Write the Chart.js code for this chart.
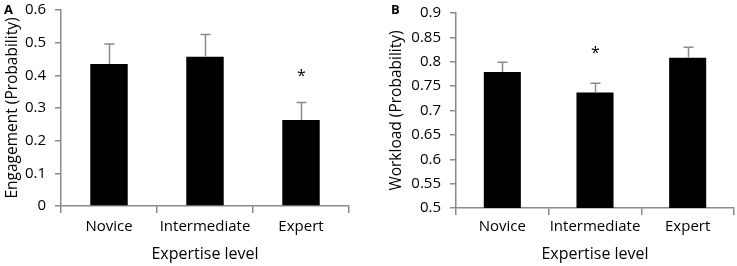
<!DOCTYPE html>
<html>
<head>
<meta charset="utf-8">
<script src="https://cdn.jsdelivr.net/npm/chart.js@4"></script>
<style>
  html, body { margin: 0; padding: 0; background: #fff; }
  body { width: 737px; height: 266px; position: relative; overflow: hidden; font-family: "Open Sans", sans-serif; }
  .panel { position: absolute; top: 0; height: 266px; }
  #pA { left: 0; width: 370px; }
  #pB { left: 370px; width: 367px; }
  .lbl { position: absolute; font-weight: bold; font-size: 13px; color: #000; line-height: 1; }
</style>
</head>
<body>
<div class="panel" id="pA"><canvas id="cA"></canvas></div>
<div class="panel" id="pB"><canvas id="cB"></canvas></div>
<span class="lbl" style="left:4px; top:3px;">A</span>
<span class="lbl" style="left:391px; top:3px;">B</span>
<script>
const categories = ['Novice', 'Intermediate', 'Expert'];

const engagement = [0.435, 0.457, 0.263];
const engagementErr = [0.061, 0.068, 0.054];
const engagementSig = [false, false, true];
const engagementTicks = [0, 0.1, 0.2, 0.3, 0.4, 0.5, 0.6];

const workload = [0.779, 0.737, 0.808];
const workloadErr = [0.020, 0.019, 0.022];
const workloadSig = [false, true, false];
const workloadTicks = [0.5, 0.55, 0.6, 0.65, 0.7, 0.75, 0.8, 0.85, 0.9];

const AXIS = '#8a8a8a';
const FONT = '"Open Sans", sans-serif';

const errorBarPlugin = {
  id: 'errorBars',
  afterDatasetsDraw(chart, args, opts) {
    const ctx = chart.ctx;
    const meta = chart.getDatasetMeta(0);
    const y = chart.scales.y;
    const ds = chart.data.datasets[0];
    ctx.save();
    meta.data.forEach((bar, i) => {
      const v = ds.data[i];
      const top = y.getPixelForValue(v + opts.err[i]);
      const base = y.getPixelForValue(v);
      const x = Math.round(bar.x) + 0.5;
      ctx.strokeStyle = AXIS;
      ctx.lineWidth = 1.5;
      ctx.beginPath();
      ctx.moveTo(x, base);
      ctx.lineTo(x, top);
      ctx.moveTo(x - opts.cap / 2, top);
      ctx.lineTo(x + opts.cap / 2, top);
      ctx.stroke();
      if (opts.sig[i]) {
        ctx.fillStyle = '#000';
        ctx.font = '16px ' + FONT;
        ctx.textAlign = 'center';
        ctx.textBaseline = 'middle';
        ctx.fillText('*', x, top - opts.sigOffset);
      }
    });
    ctx.restore();
  }
};

function fmt(v) { return String(parseFloat(v.toFixed(2))); }

function makeChart(id, values, err, sig, ticks, yTitle, cfg) {
  return new Chart(document.getElementById(id), {
    type: 'bar',
    data: {
      labels: categories,
      datasets: [{
        data: values,
        backgroundColor: '#000',
        borderWidth: 0,
        barPercentage: cfg.barPct,
        categoryPercentage: 1
      }]
    },
    plugins: [errorBarPlugin],
    options: {
      responsive: true,
      maintainAspectRatio: false,
      animation: false,
      events: [],
      layout: { padding: { left: 0, right: cfg.padRight, top: cfg.padTop, bottom: 0 } },
      plugins: {
        legend: { display: false },
        tooltip: { enabled: false },
        errorBars: { err: err, sig: sig, cap: 10, sigOffset: cfg.sigOffset }
      },
      scales: {
        x: {
          afterFit(s) { s.height = cfg.xHeight; s.paddingLeft = 0; s.paddingRight = 0; },
          border: { display: true, color: AXIS, width: 1.5 },
          grid: { display: true, drawOnChartArea: false, drawTicks: true, tickLength: 7, color: AXIS, lineWidth: 1.5 },
          ticks: { color: '#000', font: { family: FONT, size: 15 }, padding: cfg.xTickPad, maxRotation: 0, autoSkip: false },
          title: { display: true, text: 'Expertise level', color: '#000', font: { family: FONT, size: 16 }, padding: { top: 0, bottom: 2 } }
        },
        y: {
          min: ticks[0],
          max: ticks[ticks.length - 1],
          afterBuildTicks(s) { s.ticks = ticks.map(v => ({ value: v })); },
          afterFit(s) { s.width = cfg.yWidth; s.paddingTop = 0; s.paddingBottom = 0; },
          border: { display: true, color: AXIS, width: 1.5 },
          grid: { display: true, drawOnChartArea: false, drawTicks: true, tickLength: 6, color: AXIS, lineWidth: 1.5 },
          ticks: { color: '#000', font: { family: FONT, size: 15 }, padding: 9, autoSkip: false, callback: v => fmt(v) },
          title: { display: true, text: yTitle, color: '#000', font: { family: FONT, size: 15.5 }, padding: { top: cfg.yTitlePad, bottom: 0 } }
        }
      }
    }
  });
}

makeChart('cA', engagement, engagementErr, engagementSig, engagementTicks, 'Engagement (Probability)',
  { barPct: 0.39, padRight: 21, padTop: 10, xHeight: 60, xTickPad: 5, yWidth: 61, yTitlePad: 3, sigOffset: 26 });
makeChart('cB', workload, workloadErr, workloadSig, workloadTicks, 'Workload (Probability)',
  { barPct: 0.40, padRight: 3, padTop: 13, xHeight: 58, xTickPad: 3, yWidth: 86, yTitlePad: 17, sigOffset: 30 });
</script>
</body>
</html>
